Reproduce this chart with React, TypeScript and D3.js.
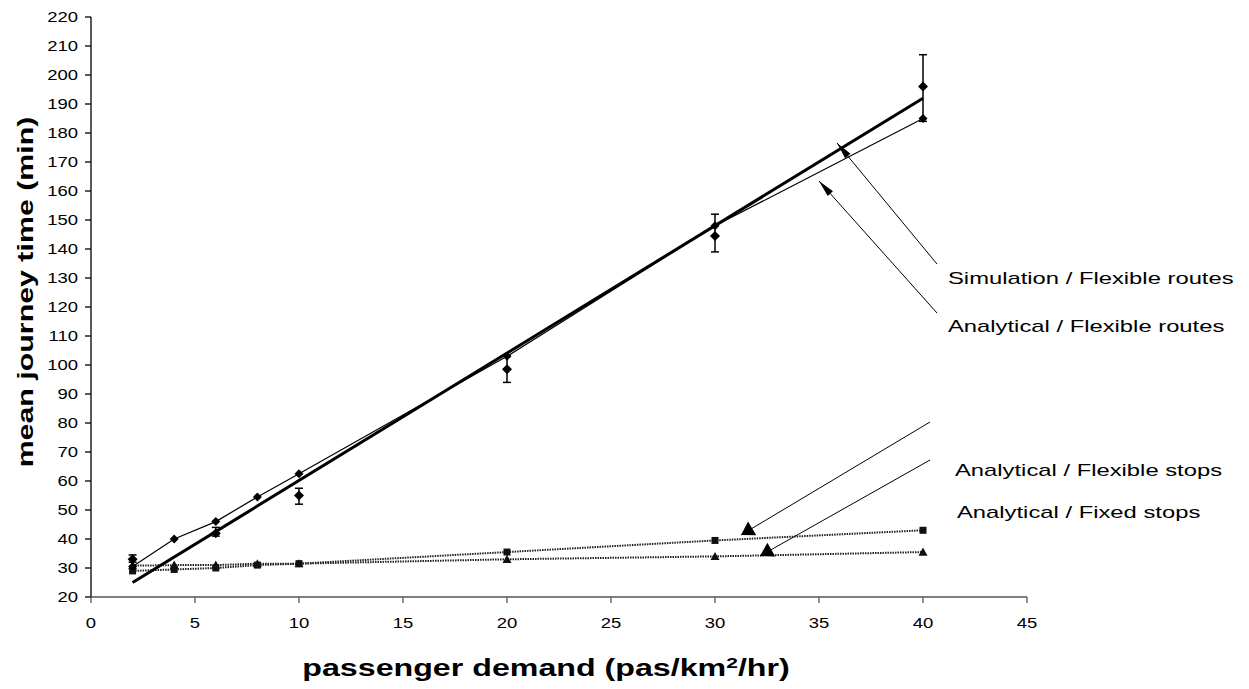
import React from 'react';
import * as d3 from 'd3';

const xTicks = [0, 5, 10, 15, 20, 25, 30, 35, 40, 45];
const yTicks = [20, 30, 40, 50, 60, 70, 80, 90, 100, 110, 120, 130, 140, 150, 160, 170, 180, 190, 200, 210, 220];
const demand = [2, 4, 6, 8, 10, 20, 30, 40];
const analyticalRoutes = [30.5, 40, 46, 54.5, 62.5, 103, 148, 185];
const flexibleStops = [29, 29.5, 30, 31, 31.5, 35.5, 39.5, 43];
const fixedStops = [30.8, 31, 31, 31.5, 31.5, 33, 34, 35.5];
const simDemand = [2, 6, 10, 20, 30, 40];
const simRoutes = [33, 42, 55, 98.5, 144.5, 196];
const simLow = [32, 41, 52, 94, 139, 184];
const simHigh = [34.5, 44, 57.5, 103, 152, 207];
const fitX = [2, 40];
const fitY = [25, 192];

const labels = [
  { text: 'Simulation / Flexible routes', tip: [837, 143], tail: [937, 264], tx: 948, ty: 278, shape: 'narrow' },
  { text: 'Analytical / Flexible routes', tip: [819, 181], tail: [937, 313], tx: 948, ty: 326, shape: 'narrow' },
  { text: 'Analytical / Flexible stops', tip: [741, 535], tail: [930, 422], tx: 955, ty: 470, shape: 'wide' },
  { text: 'Analytical / Fixed stops', tip: [760, 556], tail: [930, 460], tx: 957, ty: 512, shape: 'wide' },
];

const W = 1249;
const H = 689;

export default function App() {
  const x = d3.scaleLinear().domain([0, 45]).range([91, 1027]);
  const y = d3.scaleLinear().domain([20, 220]).range([597, 17]);
  const line = d3.line<[number, number]>().x((d) => x(d[0])).y((d) => y(d[1]));
  const font = 'Liberation Sans, Arial, sans-serif';

  const diamond = (cx: number, cy: number, r: number) =>
    `M${cx},${cy - r}L${cx + r},${cy}L${cx},${cy + r}L${cx - r},${cy}Z`;
  const tri = (cx: number, cy: number, r: number) =>
    `M${cx},${cy - r}L${cx + r},${cy + r * 0.8}L${cx - r},${cy + r * 0.8}Z`;

  const arrowHead = (tip: number[], tail: number[], shape: string) => {
    const dx = tail[0] - tip[0];
    const dy = tail[1] - tip[1];
    const len = Math.hypot(dx, dy);
    const ux = dx / len;
    const uy = dy / len;
    const L = shape === 'wide' ? 13 : 17;
    const w = shape === 'wide' ? 8 : 3.5;
    const bx = tip[0] + ux * L;
    const by = tip[1] + uy * L;
    return `M${tip[0]},${tip[1]}L${bx - uy * w},${by + ux * w}L${bx + uy * w},${by - ux * w}Z`;
  };

  const sx = 1.32;

  return (
    <svg width={W} height={H} style={{ position: 'absolute', left: 0, top: 0, background: '#fff' }} fontFamily={font}>
      <rect width={W} height={H} fill="#fff" />
      {/* axes */}
      <line x1={91} x2={91} y1={17} y2={597} stroke="#000" strokeWidth={1.3} />
      <line x1={91} x2={1027} y1={597} y2={597} stroke="#555" strokeWidth={1.5} />
      {yTicks.map((t) => (
        <g key={'y' + t}>
          <line x1={85} x2={91} y1={y(t)} y2={y(t)} stroke="#000" strokeWidth={1.3} />
          <text
            transform={`translate(78,${y(t)}) scale(${sx},1)`}
            dy="0.36em"
            textAnchor="end"
            fontSize={14}
            fill="#000"
          >
            {t}
          </text>
        </g>
      ))}
      {xTicks.map((t) => (
        <g key={'x' + t}>
          <line x1={x(t)} x2={x(t)} y1={597} y2={603} stroke="#555" strokeWidth={1.3} />
          <text
            transform={`translate(${x(t)},628) scale(${sx},1)`}
            textAnchor="middle"
            fontSize={14}
            fill="#000"
          >
            {t}
          </text>
        </g>
      ))}
      {/* axis titles */}
      <text
        transform={`translate(25,292) scale(1,1.38) rotate(-90)`}
        dy="0.36em"
        textAnchor="middle"
        fontSize={22}
        fontWeight="bold"
        fill="#000"
      >
        mean journey time (min)
      </text>
      <text
        transform={`translate(546,676) scale(1.4,1)`}
        textAnchor="middle"
        fontSize={23}
        fontWeight="bold"
        fill="#000"
      >
        passenger demand (pas/km<tspan baselineShift="super" fontSize={15}>2</tspan>/hr)
      </text>

      {/* stops lines */}
      <path
        d={line(demand.map((d, i) => [d, flexibleStops[i]]) as [number, number][]) || ''}
        fill="none"
        stroke="#222"
        strokeWidth={2}
        strokeDasharray="1.5,1"
      />
      <path
        d={line(demand.map((d, i) => [d, fixedStops[i]]) as [number, number][]) || ''}
        fill="none"
        stroke="#222"
        strokeWidth={2}
        strokeDasharray="1.5,1"
      />
      {demand.map((d, i) => (
        <rect key={'fs' + i} x={x(d) - 3.5} y={y(flexibleStops[i]) - 3.5} width={7} height={7} fill="#111" />
      ))}
      {demand.map((d, i) => (
        <path key={'fx' + i} d={tri(x(d), y(fixedStops[i]), 4.5)} fill="#111" />
      ))}

      {/* analytical routes */}
      <path
        d={line(demand.map((d, i) => [d, analyticalRoutes[i]]) as [number, number][]) || ''}
        fill="none"
        stroke="#000"
        strokeWidth={1.2}
      />
      {demand.map((d, i) => (
        <path key={'ar' + i} d={diamond(x(d), y(analyticalRoutes[i]), 4.5)} fill="#000" />
      ))}

      {/* fit line */}
      <path
        d={line(fitX.map((d, i) => [d, fitY[i]]) as [number, number][]) || ''}
        fill="none"
        stroke="#000"
        strokeWidth={3}
      />

      {/* simulation with error bars */}
      {simDemand.map((d, i) => {
        const cx = x(d);
        return (
          <g key={'sim' + i}>
            <line x1={cx} x2={cx} y1={y(simLow[i])} y2={y(simHigh[i])} stroke="#000" strokeWidth={1.5} />
            <line x1={cx - 4} x2={cx + 4} y1={y(simLow[i])} y2={y(simLow[i])} stroke="#000" strokeWidth={1.5} />
            <line x1={cx - 4} x2={cx + 4} y1={y(simHigh[i])} y2={y(simHigh[i])} stroke="#000" strokeWidth={1.5} />
            <path d={diamond(cx, y(simRoutes[i]), 5)} fill="#000" />
          </g>
        );
      })}

      {/* annotations */}
      {labels.map((l, i) => (
        <g key={'lab' + i}>
          <line x1={l.tip[0]} y1={l.tip[1]} x2={l.tail[0]} y2={l.tail[1]} stroke="#000" strokeWidth={1} />
          <path d={arrowHead(l.tip, l.tail, l.shape)} fill="#000" />
          <text
            transform={`translate(${l.tx},${l.ty}) scale(1.4,1)`}
            dy="0.36em"
            fontSize={17}
            fill="#000"
          >
            {l.text}
          </text>
        </g>
      ))}
    </svg>
  );
}
